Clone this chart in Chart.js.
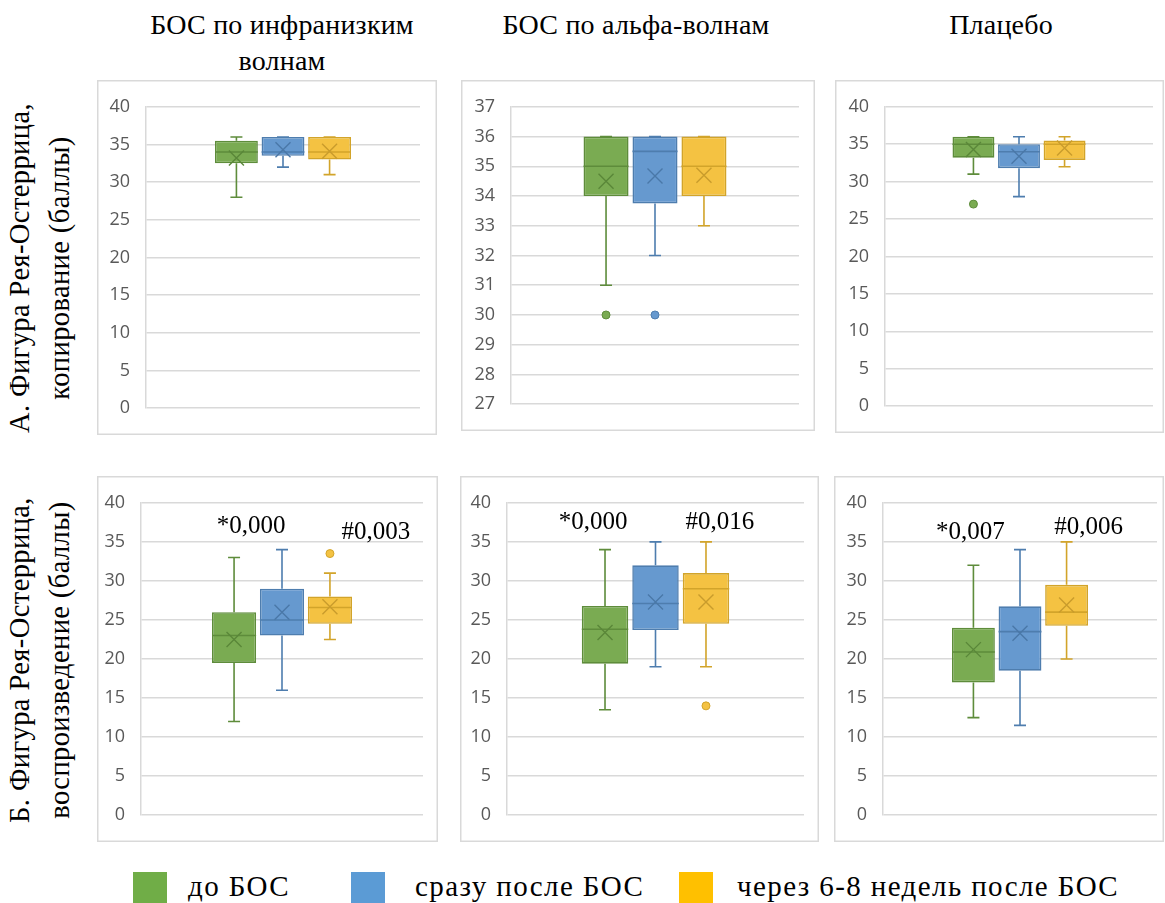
<!DOCTYPE html>
<html lang="ru">
<head>
<meta charset="utf-8">
<title>Фигура Рея-Остеррица: БОС</title>
<script src="https://cdn.jsdelivr.net/npm/chart.js@4.4.1/dist/chart.umd.min.js"></script>
<style>
  html, body { margin: 0; padding: 0; background: #fff; }
  body {
    width: 1165px; height: 903px; position: relative; overflow: hidden;
    font-family: "Liberation Serif", "DejaVu Serif", serif; color: #000;
  }
  canvas { position: absolute; }
  .col-title {
    position: absolute; width: 400px; text-align: center;
    font-size: 28px; line-height: 36px; letter-spacing: 0.2px;
  }
  .row-title {
    position: absolute; width: 440px; height: 84px;
    font-size: 28.5px; line-height: 40px; letter-spacing: 0.4px;
    text-align: center; white-space: nowrap;
    transform: rotate(-90deg); transform-origin: 50% 50%;
  }
  .swatch { position: absolute; width: 34px; height: 34px; }
  .legend-text {
    position: absolute; font-size: 29px; line-height: 34px;
    letter-spacing: 1.4px; white-space: nowrap;
  }
</style>
</head>
<body>
<script>
// ---- labels ----
const seriesNames = ['до БОС', 'сразу после БОС', 'через 6-8 недель после БОС'];
const columnTitles = [['БОС по инфранизким', 'волнам'], ['БОС по альфа-волнам'], ['Плацебо']];
const rowTitles = [
  ['А. Фигура Рея-Остеррица,', 'копирование (баллы)'],
  ['Б. Фигура Рея-Остеррица,', 'воспроизведение (баллы)']
];

// ---- y-axis ranges: [min, max, step] ----
const range0to40 = [0, 40, 5];
const range27to37 = [27, 37, 1];

// ---- box summaries per series: [lower whisker, Q1, median, Q3, upper whisker] ----
const copyInfraBoxes = [[28, 32.5, 34, 35.5, 36], [32, 33.5, 34, 36, 36], [31, 33, 34, 36, 36]];
const copyInfraMeans = [33.2, 34.3, 34.1];
const copyInfraOutliers = [[], [], []];

const copyAlphaBoxes = [[31, 34, 35, 36, 36], [32, 33.75, 35.5, 36, 36], [33, 34, 35, 36, 36]];
const copyAlphaMeans = [34.5, 34.67, 34.7];
const copyAlphaOutliers = [[30], [30], []];

const copyPlaceboBoxes = [[31, 33.2, 35, 36, 36], [28, 31.8, 34, 35, 36], [32, 32.9, 35, 35.5, 36]];
const copyPlaceboMeans = [34.3, 33.4, 34.5];
const copyPlaceboOutliers = [[27], [], []];

const recallInfraBoxes = [[12, 19.5, 23, 26, 33], [16, 23, 25, 29, 34], [22.5, 24.5, 26.6, 28, 31]];
const recallInfraMeans = [22.5, 26, 26.7];
const recallInfraOutliers = [[], [], [33.5]];

const recallAlphaBoxes = [[13.5, 19.4, 23.8, 26.8, 34], [19, 23.7, 27.1, 32, 35], [19, 24.5, 29, 31, 35]];
const recallAlphaMeans = [23.4, 27.3, 27.3];
const recallAlphaOutliers = [[], [], [14]];

const recallPlaceboBoxes = [[12.5, 17, 20.9, 24, 32], [11.5, 18.5, 23.5, 26.75, 34], [20, 24.25, 26, 29.5, 35]];
const recallPlaceboMeans = [21.2, 23.3, 26.9];
const recallPlaceboOutliers = [[], [], []];

// ---- significance notes (vs. "до БОС") ----
const recallInfraNotes = ['*0,000', '#0,003'];
const recallAlphaNotes = ['*0,000', '#0,016'];
const recallPlaceboNotes = ['*0,007', '#0,006'];

// ---- styling ----
const fillColors = ['#7aab52', '#6699cf', '#f4c242'];
const edgeColors = ['#5e8c3b', '#4e7dae', '#d2a42a'];
const meanColors = ['#5a8739', '#4a78a8', '#c99c2c'];
const swatchColors = ['#70ad47', '#5b9bd5', '#ffc000'];
const gridColor = '#d9d9d9';

// note anchors: [series index, x shift in px, y value for text centre]
const recallInfraNoteSpots = [[0, 17, 37.0], [2, 46, 36.2]];
const recallAlphaNoteSpots = [[0, -12, 37.5], [2, 14, 37.5]];
const recallPlaceboNoteSpots = [[0, -3, 36.2], [2, 22, 36.8]];

// panel frames: outer box and plot-area insets
const panels = [
  { left: 97,  top: 80,  width: 340, height: 355, axisW: 49, pad: [25, 17, 26], range: range0to40,  boxes: copyInfraBoxes,     means: copyInfraMeans,     outliers: copyInfraOutliers },
  { left: 461, top: 80,  width: 354, height: 351, axisW: 50, pad: [25, 16, 24], range: range27to37, boxes: copyAlphaBoxes,     means: copyAlphaMeans,     outliers: copyAlphaOutliers },
  { left: 835, top: 80,  width: 329, height: 353, axisW: 50, pad: [25, 11, 26], range: range0to40,  boxes: copyPlaceboBoxes,   means: copyPlaceboMeans,   outliers: copyPlaceboOutliers },
  { left: 97,  top: 476, width: 341, height: 366, axisW: 44, pad: [26, 15, 25], range: range0to40,  boxes: recallInfraBoxes,   means: recallInfraMeans,   outliers: recallInfraOutliers,   notes: recallInfraNotes,   spots: recallInfraNoteSpots },
  { left: 460, top: 476, width: 359, height: 366, axisW: 47, pad: [26, 15, 25], range: range0to40,  boxes: recallAlphaBoxes,   means: recallAlphaMeans,   outliers: recallAlphaOutliers,   notes: recallAlphaNotes,   spots: recallAlphaNoteSpots },
  { left: 834, top: 476, width: 330, height: 366, axisW: 49, pad: [26, 7, 25],  range: range0to40,  boxes: recallPlaceboBoxes, means: recallPlaceboMeans, outliers: recallPlaceboOutliers, notes: recallPlaceboNotes, spots: recallPlaceboNoteSpots }
];

// Draws whiskers, medians, mean crosses, outliers and notes on top of the floating bars
const boxPlotPlugin = {
  id: 'boxPlotDetails',
  beforeDraw(chart) {
    const { ctx, width, height } = chart;
    ctx.save();
    ctx.strokeStyle = gridColor;
    ctx.lineWidth = 1.5;
    ctx.strokeRect(0.75, 0.75, width - 1.5, height - 1.5);
    ctx.restore();
  },
  afterDatasetsDraw(chart) {
    const { ctx } = chart;
    const y = chart.scales.y;
    ctx.save();
    chart.data.datasets.forEach((ds, i) => {
      const bar = chart.getDatasetMeta(i).data[0];
      const s = ds.summary;
      const cx = bar.x, half = bar.width / 2, cap = 6;
      ctx.strokeStyle = edgeColors[i];
      ctx.lineWidth = 1.6;
      ctx.lineCap = 'butt';
      ctx.beginPath();
      // upper whisker
      if (s[4] > s[3]) {
        ctx.moveTo(cx, y.getPixelForValue(s[3]));
        ctx.lineTo(cx, y.getPixelForValue(s[4]));
      }
      ctx.moveTo(cx - cap, y.getPixelForValue(s[4]));
      ctx.lineTo(cx + cap, y.getPixelForValue(s[4]));
      // lower whisker
      if (s[0] < s[1]) {
        ctx.moveTo(cx, y.getPixelForValue(s[1]));
        ctx.lineTo(cx, y.getPixelForValue(s[0]));
      }
      ctx.moveTo(cx - cap, y.getPixelForValue(s[0]));
      ctx.lineTo(cx + cap, y.getPixelForValue(s[0]));
      // median
      ctx.moveTo(cx - half, y.getPixelForValue(s[2]));
      ctx.lineTo(cx + half, y.getPixelForValue(s[2]));
      ctx.stroke();
      // mean cross
      const my = y.getPixelForValue(ds.mean), r = 7.5;
      ctx.strokeStyle = meanColors[i];
      ctx.lineWidth = 1.4;
      ctx.beginPath();
      ctx.moveTo(cx - r, my - r); ctx.lineTo(cx + r, my + r);
      ctx.moveTo(cx - r, my + r); ctx.lineTo(cx + r, my - r);
      ctx.stroke();
      // outliers
      ds.outliers.forEach(v => {
        ctx.beginPath();
        ctx.arc(cx, y.getPixelForValue(v), 4, 0, Math.PI * 2);
        ctx.fillStyle = fillColors[i];
        ctx.fill();
        ctx.lineWidth = 1;
        ctx.strokeStyle = edgeColors[i];
        ctx.stroke();
      });
    });
    ctx.restore();
  },
  afterDraw(chart) {
    const cfg = chart.config.options.plugins.boxPlotDetails || {};
    if (!cfg.notes) return;
    const { ctx } = chart;
    const y = chart.scales.y;
    ctx.save();
    ctx.font = '25px "Liberation Serif", serif';
    ctx.fillStyle = '#000';
    ctx.textAlign = 'center';
    ctx.textBaseline = 'middle';
    cfg.notes.forEach((text, k) => {
      const [series, dx, yv] = cfg.spots[k];
      const bar = chart.getDatasetMeta(series).data[0];
      ctx.fillText(text, bar.x + dx, y.getPixelForValue(yv));
    });
    ctx.restore();
  }
};

panels.forEach(p => {
  const canvas = document.createElement('canvas');
  canvas.width = p.width;
  canvas.height = p.height;
  canvas.style.left = p.left + 'px';
  canvas.style.top = p.top + 'px';
  canvas.style.width = p.width + 'px';
  canvas.style.height = p.height + 'px';
  document.body.appendChild(canvas);

  new Chart(canvas, {
    type: 'bar',
    data: {
      labels: [''],
      datasets: seriesNames.map((name, i) => ({
        label: name,
        data: [[p.boxes[i][1], p.boxes[i][3]]],
        summary: p.boxes[i],
        mean: p.means[i],
        outliers: p.outliers[i],
        backgroundColor: fillColors[i],
        borderColor: edgeColors[i],
        borderWidth: 1.6,
        borderSkipped: false,
        categoryPercentage: 0.51,
        barPercentage: 0.92
      }))
    },
    options: {
      responsive: false,
      animation: false,
      devicePixelRatio: 1,
      events: [],
      layout: { padding: { top: p.pad[0], right: p.pad[1], bottom: p.pad[2], left: 0 } },
      plugins: {
        legend: { display: false },
        tooltip: { enabled: false },
        boxPlotDetails: { notes: p.notes, spots: p.spots }
      },
      scales: {
        x: { display: false, offset: true },
        y: {
          min: p.range[0],
          max: p.range[1],
          ticks: {
            stepSize: p.range[2],
            padding: 16,
            color: '#595959',
            font: { family: '"Open Sans"', size: 18 }
          },
          grid: { color: gridColor, lineWidth: 1.5, drawTicks: false },
          border: { color: gridColor, width: 1.5 },
          afterFit(scale) { scale.width = p.axisW; }
        }
      }
    },
    plugins: [boxPlotPlugin]
  });
});

// column headings
const colCentres = [282, 636, 1001];
columnTitles.forEach((lines, i) => {
  const d = document.createElement('div');
  d.className = 'col-title';
  d.style.left = (colCentres[i] - 200) + 'px';
  d.style.top = '7px';
  d.innerHTML = lines.join('<br>');
  document.body.appendChild(d);
});

// row headings (rotated)
const rowCentres = [268, 660];
rowTitles.forEach((lines, i) => {
  const d = document.createElement('div');
  d.className = 'row-title';
  d.style.left = (42 - 220) + 'px';
  d.style.top = (rowCentres[i] - 42) + 'px';
  d.innerHTML = lines.join('<br>');
  document.body.appendChild(d);
});

// legend
const swatchX = [133, 351, 679];
const labelX = [188, 415, 737];
seriesNames.forEach((name, i) => {
  const sw = document.createElement('div');
  sw.className = 'swatch';
  sw.style.left = swatchX[i] + 'px';
  sw.style.top = '872px';
  sw.style.background = swatchColors[i];
  document.body.appendChild(sw);
  const t = document.createElement('div');
  t.className = 'legend-text';
  t.style.left = labelX[i] + 'px';
  t.style.top = '869px';
  t.textContent = name;
  document.body.appendChild(t);
});
</script>
</body>
</html>
